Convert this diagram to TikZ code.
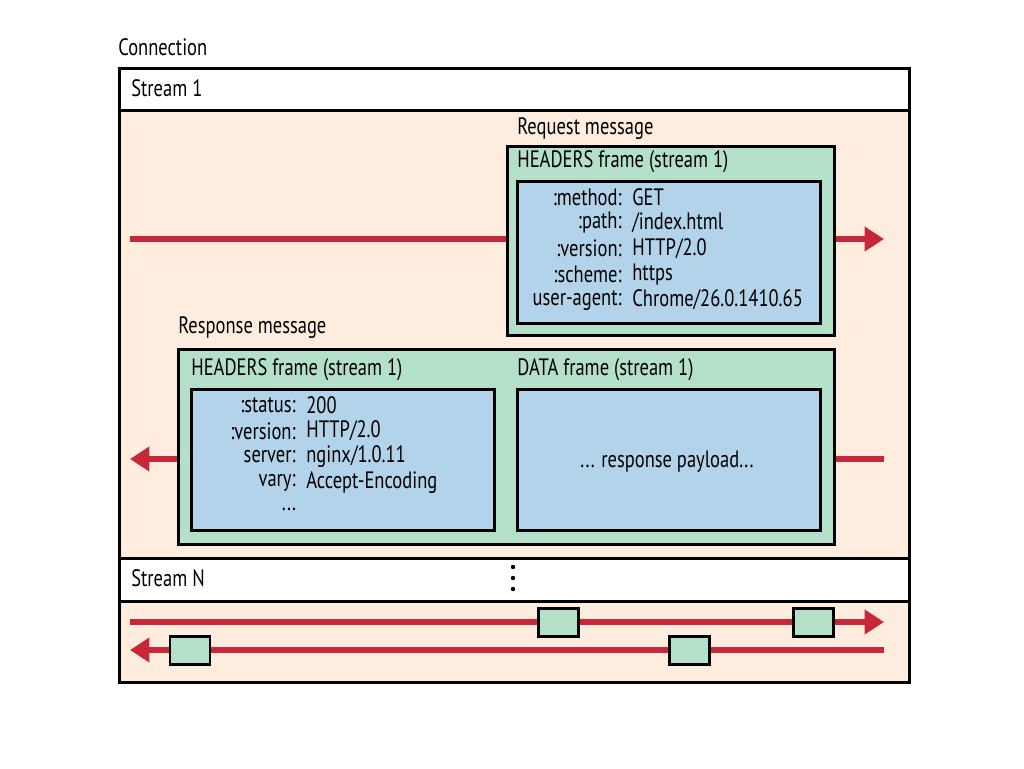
\documentclass[tikz,border=0pt]{standalone}
\usepackage{fontspec}
\setmainfont{PT Sans}[FakeStretch=0.78]
\usetikzlibrary{arrows.meta, positioning}

\definecolor{peach}{RGB}{254,237,222}
\definecolor{framegreen}{RGB}{180,224,202}
\definecolor{fieldblue}{RGB}{178,211,233}
\definecolor{flowred}{RGB}{198,40,58}

\newcommand{\px}{0.02cm}

\tikzset{
  box/.style={draw=black, line width=1.7pt, rectangle, inner sep=0pt, anchor=north west},
  framebox/.style={box, fill=framegreen},
  fieldbox/.style={box, fill=fieldblue},
  flow/.style={draw=flowred, line width=3.1pt, -{Triangle[length=11pt, width=13.5pt]}},
  txt/.style={inner sep=0pt, anchor=west, font=\fontsize{13.5}{15}\selectfont},
  key/.style={txt, anchor=east},
  chunk/.style={draw=black, line width=1.7pt, fill=framegreen, minimum width=40*\px, minimum height=28*\px, inner sep=0pt}
}

\begin{document}
\begin{tikzpicture}[x=\px, y=-\px]
    \useasboundingbox (0,0) rectangle (1024,768);

    % Connection
    \node[txt] (conn) at (118,47) {Connection};
    \node[box, fill=white, minimum width=790*\px, minimum height=42*\px] (s1head) at (118,67) {};
    \node[box, fill=peach, minimum width=790*\px, minimum height=448*\px] (s1body) at (118,109) {};
    \node[box, fill=white, minimum width=790*\px, minimum height=43*\px] (snhead) at (118,557) {};
    \node[box, fill=peach, minimum width=790*\px, minimum height=81*\px] (snbody) at (118,600) {};
    \node[txt] (s1name) at (131,88) {Stream 1};
    \node[txt] (snname) at (131,578) {Stream N};

    % puntini
    \foreach \y in {567,578,589}
        \fill (513,\y) circle (2.2);

    % flussi stream 1
    \coordinate (reqfrom) at (130,239);
    \coordinate (reqto) at (884,239);
    \coordinate (resfrom) at (884,459);
    \coordinate (resto) at (130,459);
    \draw[flow] (reqfrom) -- (reqto);
    \draw[flow] (resfrom) -- (resto);

    % Request message
    \node[txt] (reqlabel) at (517,129) {Request message};
    \node[framebox, minimum width=327*\px, minimum height=189*\px] (reqframe) at (506,145) {};
    \node[txt] (reqtitle) at (517,162) {HEADERS frame (stream 1)};
    \node[fieldbox, minimum width=303*\px, minimum height=142*\px] (reqfields) at (516,180) {};
    \foreach \k/\v [count=\i from 0] in {:method:/GET, :path:/\slash index.html, :version:/HTTP\slash2.0, :scheme:/https, user-agent:/Chrome\slash26.0.1410.65} {
        \node[key] (reqk\i) at (622,197+25.8*\i) {\k};
        \node[txt] (reqv\i) at (632,197+25.8*\i) {\v};
    }

    % Response message
    \node[txt] (reslabel) at (178,328) {Response message};
    \node[framebox, minimum width=656*\px, minimum height=195*\px] (resframe) at (177,348) {};
    \node[txt] (hdrtitle) at (191,370) {HEADERS frame (stream 1)};
    \node[txt] (datatitle) at (517,370) {DATA frame (stream 1)};
    \node[fieldbox, minimum width=303*\px, minimum height=141*\px] (hdrfields) at (190,388) {};
    \node[fieldbox, minimum width=303*\px, minimum height=141*\px] (datafields) at (516,388) {};
    \foreach \k/\v [count=\i from 0] in {:status:/200, :version:/HTTP\slash2.0, server:/nginx\slash1.0.11, vary:/Accept-Encoding} {
        \node[key] (resk\i) at (296,405+26*\i) {\k};
        \node[txt] (resv\i) at (306,405+26*\i) {\v};
    }
    \node[txt, anchor=center] (resmore) at (289,509) {...};
    \node[txt, anchor=center] (payload) at (667,462) {... response payload...};

    % Stream N
    \coordinate (upfrom) at (130,622);
    \coordinate (upto) at (884,622);
    \coordinate (downfrom) at (884,650);
    \coordinate (downto) at (130,650);
    \draw[flow] (upfrom) -- (upto);
    \draw[flow] (downfrom) -- (downto);
    \node[chunk] (up1) at (558,622) {};
    \node[chunk] (up2) at (813,622) {};
    \node[chunk] (down1) at (190,650) {};
    \node[chunk] (down2) at (689,650) {};

\end{tikzpicture}
\end{document}
